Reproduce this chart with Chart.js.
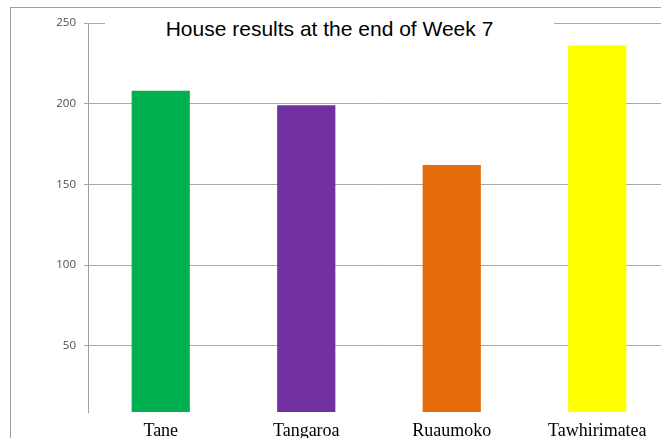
<!DOCTYPE html>
<html>
<head>
<meta charset="utf-8">
<script src="https://cdn.jsdelivr.net/npm/chart.js@4.4.1/dist/chart.umd.min.js"></script>
<style>
  html, body { margin: 0; padding: 0; background: #fff; overflow: hidden; width: 661px; height: 438px; }
  #wrap { position: relative; width: 661px; height: 438px; overflow: hidden; }
  #frame { position: absolute; left: 10px; top: 7px; width: 700px; height: 500px; border-left: 1px solid #a0a0a0; border-top: 1px solid #a0a0a0; box-sizing: border-box; }
  #c { position: absolute; left: 0; top: 0; }
  #title { position: absolute; left: 105px; top: 17px; width: 449px; height: 24px; line-height: 24px; background: #fff; text-align: center; font-family: "Liberation Sans", Arial, sans-serif; font-size: 21px; color: #000; white-space: nowrap; }
</style>
</head>
<body>
<div id="wrap">
  <div id="frame"></div>
  <canvas id="c" width="680" height="450" style="width:680px;height:450px;"></canvas>
  <div id="title">House results at the end of Week 7</div>
</div>
<script>
const categories = ["Tane", "Tangaroa", "Ruaumoko", "Tawhirimatea"];
const points = [208, 199, 162, 236];
const barColors = ["#00b050", "#7030a0", "#e46c0a", "#ffff00"];
const yTicks = [50, 100, 150, 200, 250];

new Chart(document.getElementById('c'), {
  type: 'bar',
  data: {
    labels: categories,
    datasets: [{
      data: points,
      backgroundColor: barColors,
      borderWidth: 0,
      barPercentage: 0.4,
      categoryPercentage: 1.0
    }]
  },
  options: {
    responsive: false,
    animation: false,
    devicePixelRatio: 1,
    layout: { padding: { left: 0, right: 10, top: 23, bottom: 0 } },
    plugins: { legend: { display: false }, tooltip: { enabled: false }, title: { display: false } },
    scales: {
      x: {
        grid: { display: false },
        border: { display: false },
        ticks: {
          color: '#000',
          font: { family: '"Liberation Serif", "Times New Roman", serif', size: 18 },
          padding: 0,
          maxRotation: 0,
          autoSkip: false
        },
        afterFit: (s) => { s.height = 38; }
      },
      y: {
        min: 9,
        max: 250,
        afterBuildTicks: (s) => { s.ticks = yTicks.map(v => ({ value: v })); },
        afterFit: (s) => { s.width = 88; },
        grid: { color: '#a8a8a8', lineWidth: 1, tickLength: 4, drawTicks: true },
        border: { display: true, color: '#a0a0a0', width: 1 },
        ticks: {
          color: '#4d4d4d',
          font: { family: '"Open Sans", sans-serif', size: 11.5 },
          padding: 8
        }
      }
    }
  }
});
</script>
</body>
</html>
